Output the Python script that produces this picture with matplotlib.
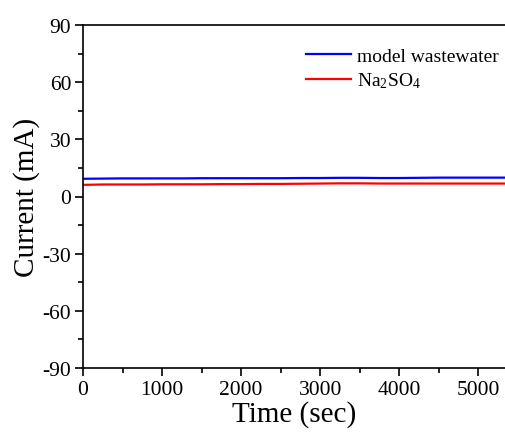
import matplotlib
matplotlib.use('Agg')
import matplotlib.pyplot as plt
from matplotlib.ticker import MultipleLocator

plt.rcParams['font.family'] = ['Liberation Serif', 'DejaVu Serif']
plt.rcParams['mathtext.fontset'] = 'custom'
plt.rcParams['mathtext.rm'] = 'Liberation Serif'
plt.rcParams['mathtext.it'] = 'Liberation Serif:italic'
plt.rcParams['axes.unicode_minus'] = False

# 数据
time_s = [0, 250, 500, 750, 1000, 1250, 1500, 1750, 2000, 2250, 2500, 2750,
          3000, 3250, 3500, 3750, 4000, 4250, 4500, 4750, 5000, 5250, 5340]
current_wastewater = [9.3, 9.4, 9.5, 9.5, 9.5, 9.5, 9.6, 9.6, 9.6, 9.6, 9.6, 9.7,
                      9.7, 9.8, 9.8, 9.7, 9.7, 9.8, 9.9, 9.9, 9.9, 9.9, 9.9]
current_na2so4 = [6.1, 6.3, 6.3, 6.3, 6.4, 6.4, 6.4, 6.5, 6.5, 6.6, 6.6, 6.7,
                  6.8, 6.9, 6.9, 6.8, 6.8, 6.8, 6.8, 6.8, 6.8, 6.8, 6.8]

fig = plt.figure(figsize=(5.05, 4.35), dpi=100)
ax = fig.add_axes([83 / 505, 66 / 435, (505 - 83) / 505, 343 / 435])

ax.plot(time_s, current_wastewater, color='#0000ff', linewidth=1.6,
        label='model wastewater')
ax.plot(time_s, current_na2so4, color='#ff0000', linewidth=1.6,
        label=r'Na$_2$SO$_4$')

ax.set_xlim(0, 5340)
ax.set_ylim(-90, 90)
ax.xaxis.set_major_locator(MultipleLocator(1000))
ax.xaxis.set_minor_locator(MultipleLocator(500))
ax.yaxis.set_major_locator(MultipleLocator(30))
ax.yaxis.set_minor_locator(MultipleLocator(15))
ax.tick_params(which='major', direction='out', length=6, width=1.2,
               labelsize=15.5, top=False, right=False, pad=2.5)
ax.tick_params(which='minor', direction='out', length=3.5, width=1.2,
               top=False, right=False)
for s in ['left', 'bottom', 'top']:
    ax.spines[s].set_linewidth(1.2)
ax.spines['right'].set_visible(False)

ax.set_xlabel('Time (sec)', fontsize=21, labelpad=1)
ax.set_ylabel('Current (mA)', fontsize=21, labelpad=2)

ax.legend(loc='upper left', bbox_to_anchor=(306 / 505, 1 - 48 / 435),
          bbox_transform=fig.transFigure, frameon=False, fontsize=14,
          handlelength=2.3, handletextpad=0.3, labelspacing=0.3,
          borderaxespad=0, borderpad=0)

fig.savefig('out.png', dpi=100)
